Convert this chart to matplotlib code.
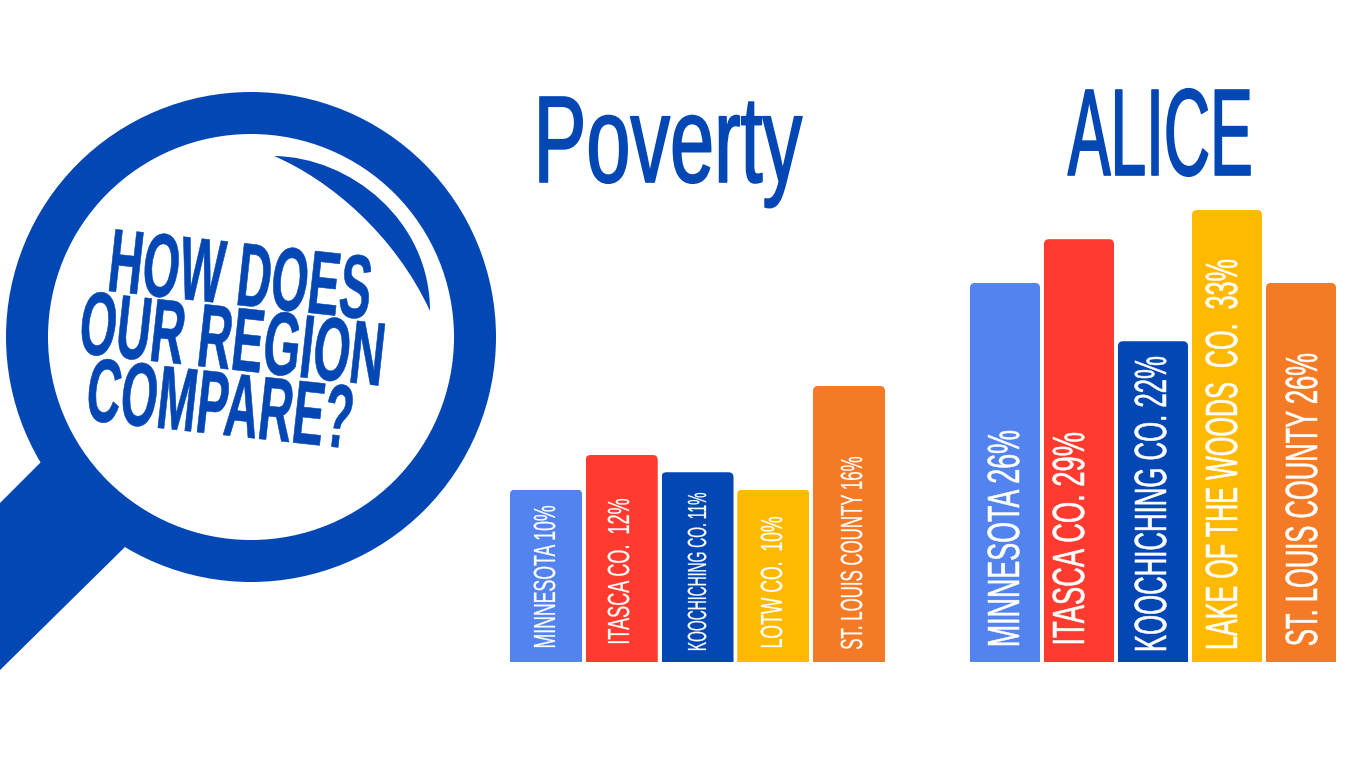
import math
import matplotlib
matplotlib.use("Agg")
import matplotlib.pyplot as plt
from matplotlib.font_manager import FontProperties
from matplotlib.patches import Circle, PathPatch, Polygon
from matplotlib.path import Path
from matplotlib.patheffects import AbstractPathEffect
from matplotlib.textpath import TextPath
from matplotlib.transforms import Affine2D, IdentityTransform

# ---- data ----
poverty_titles = ["MINNESOTA 10%", "ITASCA CO.  12%", "KOOCHICHING CO. 11%", "LOTW CO.  10%", "ST. LOUIS COUNTY 16%"]
poverty_values = [10, 12, 11, 10, 16]
alice_titles = ["MINNESOTA 26%", "ITASCA CO. 29%", "KOOCHICHING CO. 22%", "LAKE OF THE WOODS  CO.  33%", "ST. LOUIS COUNTY 26%"]
alice_heights = [26, 29, 22, 31, 26]  # the drawn bar for 33% is only this tall in the picture
headline_lines = ["HOW DOES", "OUR REGION", "COMPARE?"]

# ---- style / layout ----
W, H = 1366, 768
BLUE = "#0347B5"
bar_colors = ["#5383EE", "#FF3A2E", "#0347B5", "#FFB900", "#F47A26"]
FAMILY = ["Liberation Sans Narrow", "Liberation Sans"]
BASE_Y = 662

# (right edge of the rotated caps, start y, length, cap height)
poverty_layout = [(555, 647, 141, 21), (629, 643, 144, 21), (706, 650, 157, 18), (782, 647, 130, 21), (862, 649, 192, 21)]
alice_layout = [(1019, 645, 214, 31), (1084, 643, 210, 31), (1166, 650, 293, 31), (1237, 648, 388, 31), (1317, 645, 291, 31)]
# (x, baseline y, length, cap height)
headline_layout = [(109, 291, 259, 62), (79, 353, 301, 62), (86, 420, 263, 62)]


class Tall(AbstractPathEffect):
    """Stretch glyphs across the text direction and embolden slightly (text stays real text)."""

    def __init__(self, sy, stroke=0.0):
        super().__init__()
        self.sy = sy
        self.stroke = stroke

    def draw_path(self, renderer, gc, tpath, affine, rgbFace=None):
        gc0 = renderer.new_gc()
        gc0.copy_properties(gc)
        if self.stroke > 0:
            gc0.set_linewidth(self.stroke)
            gc0.set_foreground(rgbFace)
        renderer.draw_path(gc0, tpath, Affine2D().scale(1, self.sy) + affine, rgbFace)
        gc0.restore()


def fitted_text(ax, s, x, y, length, cap, angle, color, weight="normal", stroke=0.0):
    prop = FontProperties(family=FAMILY, weight=weight)
    ref = TextPath((0, 0), s, size=100, prop=prop).get_extents()
    px = 100 * length / ref.width
    cap_now = TextPath((0, 0), "H", size=px, prop=prop).get_extents().height
    a = math.radians(angle)
    off = ref.x0 * px / 100
    t = ax.text(x - off * math.cos(a), y + off * math.sin(a), s, fontproperties=prop, fontsize=px * 72 / 100,
                rotation=angle, rotation_mode="anchor", ha="left", va="baseline", color=color, zorder=5)
    t.set_path_effects([Tall(cap / cap_now, stroke)])
    return t


fig = plt.figure(figsize=(W / 100, H / 100), dpi=100, facecolor="white")


def px_axes(left, top, right, bottom):
    return fig.add_axes([left / W, 1 - bottom / H, (right - left) / W, (bottom - top) / H])


# ---- bars ----
def bars(values, left, right, center0, pitch, width, px_per_unit, top_px=100):
    ax = px_axes(left, top_px, right, BASE_Y)
    ax.set_xlim((left - center0) / pitch, (right - center0) / pitch)
    ax.set_ylim(0, (BASE_Y - top_px) / px_per_unit)
    ax.axis("off")
    rects = ax.bar(range(len(values)), values, width=width / pitch, color=bar_colors, linewidth=0)
    r = 5
    for rect in rects:
        (x0, y0), (x1, y1) = ax.transData.transform(
            [(rect.get_x(), 0), (rect.get_x() + rect.get_width(), rect.get_height())])
        clip = Path([(x0, y0 - 2), (x0, y1 - r), (x0, y1), (x0 + r, y1), (x1 - r, y1), (x1, y1), (x1, y1 - r),
                     (x1, y0 - 2), (x0, y0 - 2)],
                    [Path.MOVETO, Path.LINETO, Path.CURVE3, Path.CURVE3, Path.LINETO, Path.CURVE3, Path.CURVE3,
                     Path.LINETO, Path.CLOSEPOLY])
        rect.set_clip_path(clip, IdentityTransform())
    return ax


bars(poverty_values, 500, 900, 546, 75.75, 72, 17.25)
bars(alice_heights, 960, 1346, 1005, 74, 70, 14.58)

# ---- overlay in image pixels ----
ov = fig.add_axes([0, 0, 1, 1], zorder=3)
ov.set_xlim(0, W)
ov.set_ylim(H, 0)
ov.axis("off")
ov.patch.set_alpha(0)

# magnifying glass
ov.add_patch(Polygon([(41, 462), (-5, 508), (-5, 675), (125, 547)], closed=True, fc=BLUE, ec="none"))
ov.add_patch(Circle((251, 337), 245, fc=BLUE, ec="none"))
ov.add_patch(Circle((251, 337), 203, fc="white", ec="none"))
ov.add_patch(PathPatch(Path([(274, 156), (350, 157), (430, 220), (430, 311), (395, 235), (330, 180), (274, 156), (274, 156)],
                            [Path.MOVETO, Path.CURVE4, Path.CURVE4, Path.CURVE4, Path.CURVE4, Path.CURVE4, Path.CURVE4,
                             Path.CLOSEPOLY]),
                       fc=BLUE, ec="none"))

for s, (x, y, ln, cap) in zip(headline_lines, headline_layout):
    fitted_text(ov, s, x, y, ln, cap, -6.2, BLUE, weight="bold", stroke=0.4)

fitted_text(ov, "Poverty", 540, 182, 262, 85, 0, BLUE, stroke=1.2)
fitted_text(ov, "ALICE", 1068, 175, 182, 85, 0, BLUE, stroke=1.2)

for s, (x, y, ln, cap) in zip(poverty_titles, poverty_layout):
    fitted_text(ov, s, x, y, ln, cap, 90, "white", stroke=0.2)
for s, (x, y, ln, cap) in zip(alice_titles, alice_layout):
    fitted_text(ov, s, x, y, ln, cap, 90, "white", stroke=0.4)

fig.savefig("out.png", dpi=100, facecolor="white")
